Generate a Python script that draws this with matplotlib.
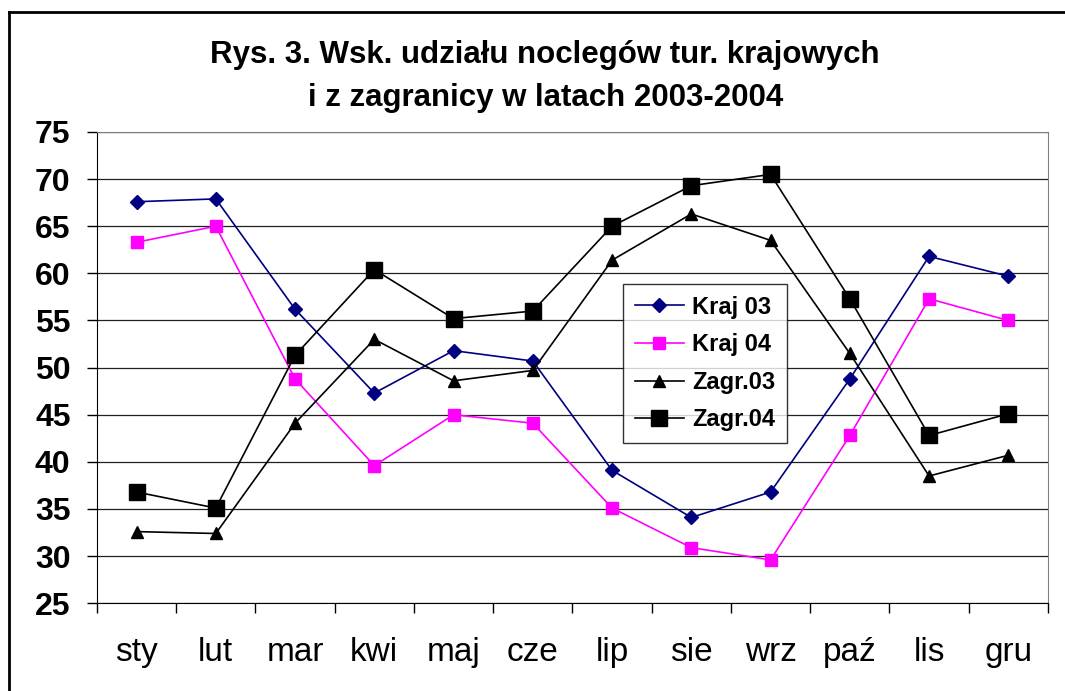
import matplotlib.pyplot as plt
from matplotlib.lines import Line2D

plt.rcParams["font.family"] = ["Liberation Sans", "DejaVu Sans"]

months = ["sty", "lut", "mar", "kwi", "maj", "cze", "lip", "sie", "wrz", "paź", "lis", "gru"]

kraj_03 = [67.6, 67.9, 56.2, 47.3, 51.8, 50.7, 39.1, 34.1, 36.8, 48.8, 61.8, 59.7]
kraj_04 = [63.3, 65.0, 48.8, 39.6, 45.0, 44.1, 35.1, 30.9, 29.6, 42.8, 57.3, 55.0]
zagr_03 = [32.6, 32.4, 44.1, 53.0, 48.6, 49.7, 61.4, 66.3, 63.5, 51.5, 38.5, 40.7]
zagr_04 = [36.8, 35.1, 51.3, 60.4, 55.2, 56.0, 65.0, 69.3, 70.5, 57.3, 42.8, 45.1]

yticks = list(range(25, 80, 5))

fig = plt.figure(figsize=(10.65, 6.91), dpi=100)
ax = fig.add_axes([0.091, 0.127, 0.893, 0.682])

x = list(range(len(months)))
ax.plot(x, kraj_03, color="#000080", marker="D", markersize=7, lw=1.2, label="Kraj 03")
ax.plot(x, kraj_04, color="#ff00ff", marker="s", markersize=9, lw=1.2, label="Kraj 04")
ax.plot(x, zagr_03, color="black", marker="^", markersize=9, lw=1.2, label="Zagr.03")
ax.plot(x, zagr_04, color="black", marker="s", markersize=11, lw=1.2, label="Zagr.04")

ax.set_xlim(-0.5, len(months) - 0.5)
ax.set_ylim(25, 75)
ax.set_yticks(yticks)
ax.set_yticklabels([str(v) for v in yticks], fontsize=23, fontweight="bold")
ax.set_xticks(x)
ax.set_xticklabels(months, fontsize=24)
ax.set_xticks([i - 0.5 for i in range(len(months) + 1)], minor=True)
ax.tick_params(axis="x", which="major", length=0, pad=24)
ax.tick_params(axis="x", which="minor", length=7, direction="out", width=1)
ax.tick_params(axis="y", length=7, direction="out", width=1, pad=12)

ax.grid(axis="y", color="#202020", lw=0.9)
ax.set_axisbelow(True)
for side in ["top", "right"]:
    ax.spines[side].set_color("#808080")
ax.spines["left"].set_color("black")
ax.spines["bottom"].set_color("black")

leg = ax.legend(loc="upper left", bbox_to_anchor=(0.553, 0.678), borderaxespad=0,
                prop={"weight": "bold", "size": 17}, frameon=True, fancybox=False,
                edgecolor="black", borderpad=0.5, labelspacing=0.62,
                handlelength=2.1, handletextpad=0.35)
leg.get_frame().set_linewidth(1.0)

fig.text(0.512, 0.920, "Rys. 3. Wsk. udziału noclegów tur. krajowych", ha="center", va="center",
         fontsize=22.5, fontweight="bold")
fig.text(0.512, 0.858, "i z zagranicy w latach 2003-2004", ha="center", va="center",
         fontsize=22.5, fontweight="bold")

# chart frame
fig.add_artist(Line2D([0.008, 1.0], [0.983, 0.983], color="black", lw=2, transform=fig.transFigure))
fig.add_artist(Line2D([0.008, 0.008], [0.0, 0.983], color="black", lw=2, transform=fig.transFigure))

fig.savefig("out.png", dpi=100)
